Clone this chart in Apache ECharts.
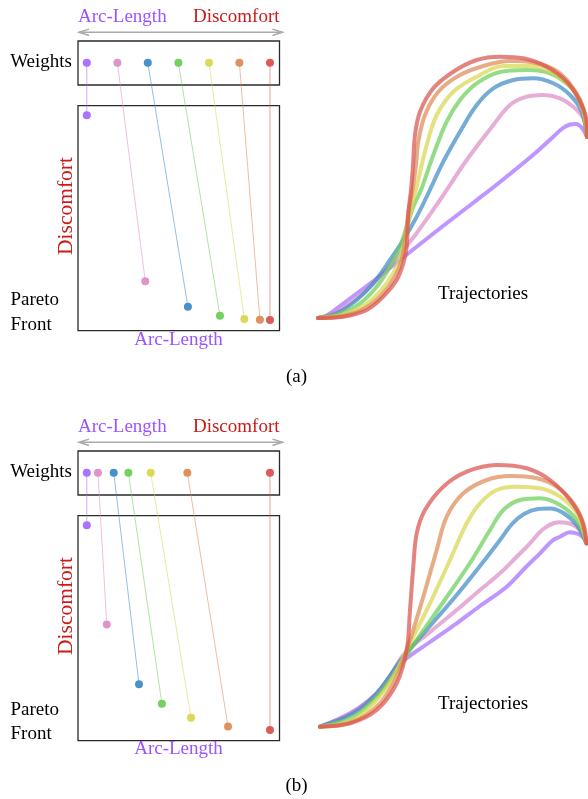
<!DOCTYPE html>
<html>
<head>
<meta charset="utf-8">
<script src="https://cdn.jsdelivr.net/npm/echarts@6/dist/echarts.min.js"></script>
<style>
html,body{margin:0;padding:0;background:#fff;}
#c{width:588px;height:799px;}
</style>
</head>
<body>
<div id="c"></div>
<script>
// ---------- data ----------
const colorNames = ['purple','pink','blue','green','yellow','orange','red'];
const colors = ['#a66cff','#dc8fc6','#3f8bc8','#6bcf58','#d9d651','#de8b56','#d9534f'];

// Panel (a): weights (0 = arc-length only, 1 = discomfort only) and Pareto front (normalized)
const weightsA = [0, 0.167, 0.333, 0.5, 0.667, 0.833, 1];
const arcA     = [0, 0.319, 0.552, 0.727, 0.860, 0.945, 1];
const discA    = [1, 0.190, 0.065, 0.021, 0.005, 0.002, 0];

// Panel (b)
const weightsB = [0, 0.061, 0.147, 0.227, 0.349, 0.549, 1];
const arcB     = [0, 0.109, 0.285, 0.410, 0.569, 0.771, 1];
const discB    = [1, 0.516, 0.224, 0.129, 0.060, 0.017, 0];

// Trajectories panel (a) [x, y] in figure units
const trajA_purple = [[318,318],[326,316],[340,306],[376,279],[410,252],[443,226],[473,203],[500,182],[533,155],[553,137],[563,128],[570,124.5],[576,124],[582,128],[587,137]];
const trajA_pink   = [[318,318],[333,313.3],[350,303.3],[370,287],[393,262],[416,234],[440,200],[466.7,160],[493.3,125],[510,105],[526.7,96.7],[543.3,95],[560,98.3],[573.3,106.7],[583.3,118.3],[587,137]];
const trajA_blue   = [[318,318],[336.7,313.3],[356.7,300],[373.3,283.3],[390,260],[403.3,240],[416.7,216.7],[427,196],[443.3,161.7],[460,131.7],[476.7,105],[493.3,88.3],[513.3,80],[533.3,78.3],[553.3,83.3],[570,95],[581.7,111.7],[587,137]];
const trajA_green  = [[318,318],[340,314],[360,303.3],[376.7,286.7],[390,266.7],[400,246.7],[406.7,226.7],[414,205],[421,190],[433.3,155],[446.7,121.7],[460,100],[476.7,83.3],[500,72],[526.7,70],[550,73.3],[570,86.7],[581.7,105],[587,137]];
const trajA_yellow = [[318,318],[341.7,315],[363.3,306],[380,291.7],[393.3,273.3],[401.7,253.3],[406.7,230],[412,205],[417,185],[426.7,145],[436.7,115],[453.3,91.7],[476.7,76.7],[503.3,66],[530,66],[553.3,73],[573.3,90],[583.3,111.7],[587,137]];
const trajA_orange = [[318,318],[343.3,316],[365,308.3],[381.7,295],[395,276.7],[401.7,260],[405,240],[408.3,213.3],[412.5,190],[416,165],[418.3,141.7],[425,115],[438.3,91.7],[460,75],[486.7,65],[510,61],[533.3,62.5],[556.7,71],[573.3,88.3],[583.3,108.3],[587,137]];
const trajA_red    = [[318,318],[343.3,316.7],[366.7,310],[383.3,296.7],[396.7,280],[403.3,263.3],[406.7,246.7],[408.3,213.3],[411,190],[413,165],[415,135],[420,111.7],[433.3,88.3],[453.3,71.7],[476.7,60],[500,56.7],[523.3,58.3],[546.7,66.7],[566.7,81.7],[580,101.7],[586.7,121.7],[587,137]];

// Trajectories panel (b)
const trajB_purple = [[320,726.7],[350,713.3],[376.7,693.3],[400,664],[430,642],[456.7,623.3],[480,606],[506.7,586.7],[525,568],[540,553.3],[552,541],[560,536.7],[570,532.3],[578.3,534],[583,537.5],[586.5,543.3]];
const trajB_pink   = [[320,726.7],[353.3,711.7],[383.3,686.7],[403.3,655],[430,632],[456.7,610],[480,590],[500,573.3],[515,558.5],[530,543.3],[540,532],[546.7,526.7],[553,523.5],[560,522.3],[567,523],[573.3,525],[581,531],[586.5,543.3]];
const trajB_blue   = [[320,726.7],[353.3,713.3],[376.7,693.3],[403.3,657],[430,626],[456.7,595],[480,566],[500,540],[512,524],[524,514],[538,509],[550,508.5],[563.3,513],[576.7,525],[586.5,543.3]];
const trajB_green  = [[320,726.7],[353.3,716.7],[376.7,696.7],[396.7,670],[416.7,640],[443.3,602],[470,563],[490,530],[503.3,510],[520,500],[540,498.3],[560,505],[576.7,520],[586.5,543.3]];
const trajB_yellow = [[320,726.7],[353.3,720],[376.7,700],[393.3,676.7],[410,643.3],[430,603.3],[450,560],[466.7,523.3],[480,503.3],[496.7,490],[516.7,486.7],[540,488.3],[560,496.7],[576.7,513.3],[586.5,543.3]];
const trajB_orange = [[320,726.7],[353.3,721.7],[380,703.3],[396.7,676.7],[410,640],[423.3,596.7],[436.7,550],[446.7,516.7],[463.3,493.3],[486.7,480],[510,476],[536.7,478.3],[556.7,486.7],[573.3,503.3],[583.3,523.3],[586.5,543.3]];
const trajB_red    = [[320,726.7],[350,723.3],[376.7,710],[396.7,683.3],[406.7,650],[410,610],[413.3,566.7],[416.7,533.3],[425,510],[443.3,486.7],[466.7,471.7],[496.7,465],[526.7,468.3],[550,480],[570,500],[581.7,520],[586.5,543.3]];

const trajA = [trajA_purple, trajA_pink, trajA_blue, trajA_green, trajA_yellow, trajA_orange, trajA_red];
const trajB = [trajB_purple, trajB_pink, trajB_blue, trajB_green, trajB_yellow, trajB_orange, trajB_red];

// Text
const labelArc = 'Arc-Length';
const labelDisc = 'Discomfort';
const labelWeights = 'Weights';
const labelPareto = 'Pareto';
const labelFront = 'Front';
const labelTraj = 'Trajectories';
const captions = ['(a)', '(b)'];

// ---------- layout ----------
const SERIF = '"Liberation Serif","DejaVu Serif",serif';
const PURPLE_TXT = '#9b55ff';
const RED_TXT = '#cc1a1a';
const WEIGHT_ROW = 1.257; // level of the weights row in Pareto-grid units
const panelOffsets = [0, 410];

const chart = echarts.init(document.getElementById('c'), null, {renderer: 'canvas'});

const grids = [], xAxes = [], yAxes = [], series = [], graphics = [];

function hiddenAxis(gi, min, max, extra) {
  return Object.assign({
    gridIndex: gi, type: 'value', min: min, max: max, show: true,
    axisLine: {show: false}, axisTick: {show: false},
    axisLabel: {show: false}, splitLine: {show: false}
  }, extra || {});
}

function txt(text, x, y, opts) {
  return {
    type: 'text', x: x, y: y, rotation: (opts && opts.rotation) || 0, silent: true,
    style: {
      text: text,
      fill: (opts && opts.color) || '#000',
      font: ((opts && opts.size) || 19) + 'px ' + SERIF,
      textAlign: (opts && opts.align) || 'center',
      textVerticalAlign: 'middle'
    }
  };
}

[0, 1].forEach(function (p) {
  const off = panelOffsets[p];
  const weights = p === 0 ? weightsA : weightsB;
  const arc = p === 0 ? arcA : arcB;
  const disc = p === 0 ? discA : discB;
  const traj = p === 0 ? trajA : trajB;
  const gBase = grids.length;

  // Pareto box grid
  grids.push({left: 78, top: 105.7 + off, width: 201.5, height: 225, show: true,
    borderColor: '#2a2a2a', borderWidth: 1.3, backgroundColor: 'transparent'});
  xAxes.push(hiddenAxis(gBase, -0.048, 1.052));
  yAxes.push(hiddenAxis(gBase, -0.052, 1.047));
  // Weights box grid
  grids.push({left: 78, top: 41 + off, width: 201.5, height: 44, show: true,
    borderColor: '#2a2a2a', borderWidth: 1.3, backgroundColor: 'transparent'});
  xAxes.push(hiddenAxis(gBase + 1, -0.048, 1.052));
  yAxes.push(hiddenAxis(gBase + 1, 0, 1));
  // Trajectory grid
  const tTop = p === 0 ? 30 : 440;
  grids.push({left: 300, top: tTop, width: 288, height: 300, show: false});
  xAxes.push(hiddenAxis(gBase + 2, 300, 588));
  yAxes.push(hiddenAxis(gBase + 2, tTop, tTop + 300, {inverse: true}));

  // weights -> Pareto connectors with dots
  for (let i = 0; i < colors.length; i++) {
    series.push({
      type: 'line', name: colorNames[i], xAxisIndex: gBase, yAxisIndex: gBase,
      clip: false, silent: true, animation: false,
      data: [[weights[i], WEIGHT_ROW], [arc[i], disc[i]]],
      symbol: 'circle', symbolSize: 8, showSymbol: true,
      lineStyle: {color: colors[i], width: 1, opacity: 0.55},
      itemStyle: {color: colors[i], opacity: 0.95},
      z: 3
    });
  }
  // trajectories
  for (let i = 0; i < colors.length; i++) {
    series.push({
      type: 'line', name: colorNames[i], xAxisIndex: gBase + 2, yAxisIndex: gBase + 2,
      clip: false, silent: true, animation: false,
      data: traj[i], smooth: 0.35, showSymbol: false, symbol: 'none',
      lineStyle: {color: colors[i], width: 4, opacity: 0.72, cap: 'round', join: 'round'},
      z: 2
    });
  }

  // arrow
  const ay = 32.3 + off;
  graphics.push({type: 'line', silent: true, shape: {x1: 79, y1: ay, x2: 282.5, y2: ay},
    style: {stroke: '#ababab', lineWidth: 1.5}});
  graphics.push({type: 'polyline', silent: true, shape: {points: [[89, ay - 3.2], [79, ay], [89, ay + 3.2]]},
    style: {stroke: '#ababab', lineWidth: 1.5, fill: null}});
  graphics.push({type: 'polyline', silent: true, shape: {points: [[272.5, ay - 3.2], [282.5, ay], [272.5, ay + 3.2]]},
    style: {stroke: '#ababab', lineWidth: 1.5, fill: null}});

  // texts
  graphics.push(txt(labelArc, 78, 17 + off, {color: PURPLE_TXT, align: 'left'}));
  graphics.push(txt(labelDisc, 279.5, 17 + off, {color: RED_TXT, align: 'right'}));
  graphics.push(txt(labelWeights, 72, 62.5 + off, {align: 'right'}));
  graphics.push(txt(labelPareto, 10.5, (p === 0 ? 300.5 : 710), {align: 'left'}));
  graphics.push(txt(labelFront, 10.5, (p === 0 ? 325 : 734.5), {align: 'left'}));
  graphics.push(txt(labelDisc, 66.5, (p === 0 ? 206 : 606), {color: RED_TXT, size: 21.5, rotation: Math.PI / 2}));
  graphics.push(txt(labelArc, 178.5, (p === 0 ? 340.5 : 749.5), {color: PURPLE_TXT}));
  graphics.push(txt(labelTraj, 483, (p === 0 ? 294.5 : 704.5)));
  graphics.push(txt(captions[p], 296.5, (p === 0 ? 376.7 : 786.5)));
});

chart.setOption({
  animation: false,
  backgroundColor: '#ffffff',
  grid: grids,
  xAxis: xAxes,
  yAxis: yAxes,
  series: series,
  graphic: {elements: graphics}
});
</script>
</body>
</html>
